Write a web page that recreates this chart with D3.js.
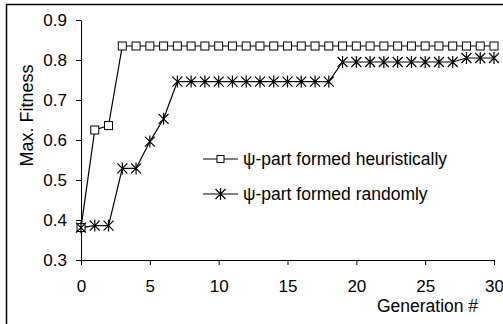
<!DOCTYPE html>
<html>
<head>
<meta charset="utf-8">
<script src="https://cdn.jsdelivr.net/npm/d3@7"></script>
<style>
  body { margin: 0; background: #fff; }
  svg { display: block; font-family: "Liberation Sans", Arial, sans-serif; }
</style>
</head>
<body>
<svg id="chart" width="503" height="324"></svg>
<script>
// Data
const generations = d3.range(0, 31);
const heuristicValues = [0.381, 0.625, 0.636,
  0.835, 0.835, 0.835, 0.835, 0.835, 0.835, 0.835, 0.835, 0.835, 0.835, 0.835, 0.835,
  0.835, 0.835, 0.835, 0.835, 0.835, 0.835, 0.835, 0.835, 0.835, 0.835, 0.835, 0.835,
  0.835, 0.835, 0.835, 0.835];
const randomValues = [0.381, 0.386, 0.386, 0.529, 0.529, 0.596, 0.653,
  0.746, 0.746, 0.746, 0.746, 0.746, 0.746, 0.746, 0.746, 0.746, 0.746, 0.746, 0.746,
  0.795, 0.795, 0.795, 0.795, 0.795, 0.795, 0.795, 0.795, 0.795,
  0.805, 0.805, 0.805];
const seriesNames = ["\u03c8-part formed heuristically", "\u03c8-part formed randomly"];
const xTicks = [0, 5, 10, 15, 20, 25, 30];
const yTicks = [0.3, 0.4, 0.5, 0.6, 0.7, 0.8, 0.9];

const svg = d3.select("#chart");
const plot = { left: 81, right: 494, top: 20, bottom: 260 };

// Outer frame (cut off at right and bottom in the reference)
svg.append("rect")
    .attr("x", 6.5).attr("y", 4.5)
    .attr("width", 520).attr("height", 340)
    .attr("fill", "none")
    .attr("stroke", "#000")
    .attr("stroke-width", 1.5);

const x = d3.scaleLinear().domain([0, 30]).range([plot.left, plot.right]);
const y = d3.scaleLinear().domain([0.3, 0.9]).range([plot.bottom, plot.top]);

// Axes
const xAxis = svg.append("g")
    .attr("transform", `translate(0,${plot.bottom})`)
    .call(d3.axisBottom(x).tickValues(xTicks).tickSize(5).tickPadding(15).tickSizeOuter(0));
const yAxis = svg.append("g")
    .attr("transform", `translate(${plot.left},0)`)
    .call(d3.axisLeft(y).tickValues(yTicks).tickFormat(d3.format(".1f")).tickSize(5).tickPadding(9).tickSizeOuter(0));

[xAxis, yAxis].forEach(g => {
    g.attr("font-family", null).attr("font-size", null);
    g.selectAll("text").style("font-size", "17px").attr("fill", "#000");
    g.selectAll("line, path").attr("stroke", "#000");
});

// Axis titles
svg.append("text")
    .attr("x", 427.5).attr("y", 311.5)
    .attr("text-anchor", "middle")
    .style("font-size", "17.5px")
    .text("Generation #");

svg.append("text")
    .attr("transform", "translate(33,115.5) rotate(-90)")
    .attr("text-anchor", "middle")
    .style("font-size", "18px")
    .text("Max. Fitness");

// Lines
const line = d3.line()
    .x((d, i) => x(generations[i]))
    .y(d => y(d));

const seriesList = [
    { name: seriesNames[0], values: heuristicValues, marker: "square" },
    { name: seriesNames[1], values: randomValues, marker: "star" }
];

function drawMarker(g, type, cx, cy) {
    if (type === "square") {
        g.append("rect")
            .attr("x", cx - 4).attr("y", cy - 4)
            .attr("width", 8).attr("height", 8)
            .attr("fill", "#fff")
            .attr("stroke", "#000")
            .attr("stroke-width", 1);
    } else {
        const r = 5;
        const path = `M${cx - r},${cy - r}L${cx + r},${cy + r}M${cx - r},${cy + r}L${cx + r},${cy - r}` +
            `M${cx},${cy - r - 1}L${cx},${cy + r + 1}`;
        g.append("path")
            .attr("d", path)
            .attr("stroke", "#000")
            .attr("stroke-width", 1.2)
            .attr("fill", "none");
    }
}

seriesList.forEach(s => {
    svg.append("path")
        .datum(s.values)
        .attr("d", line)
        .attr("fill", "none")
        .attr("stroke", "#000")
        .attr("stroke-width", 1.2);
});

// Markers drawn after lines (random series on top)
seriesList.forEach(s => {
    const g = svg.append("g");
    s.values.forEach((v, i) => drawMarker(g, s.marker, x(generations[i]), y(v)));
});

// Legend
const legend = svg.append("g").attr("transform", "translate(203,0)");
seriesList.forEach((s, i) => {
    const ly = 159 + i * 35;
    legend.append("line")
        .attr("x1", 0).attr("x2", 35)
        .attr("y1", ly).attr("y2", ly)
        .attr("stroke", "#000")
        .attr("stroke-width", 1.2);
    const mg = legend.append("g");
    if (s.marker === "square") {
        mg.append("rect")
            .attr("x", 14).attr("y", ly - 3.5)
            .attr("width", 7).attr("height", 7)
            .attr("fill", "#fff").attr("stroke", "#000");
    } else {
        drawMarker(mg, "star", 17.5, ly);
    }
    legend.append("text")
        .attr("x", 40).attr("y", ly + 6)
        .style("font-size", "17.5px")
        .text(s.name);
});
</script>
</body>
</html>
